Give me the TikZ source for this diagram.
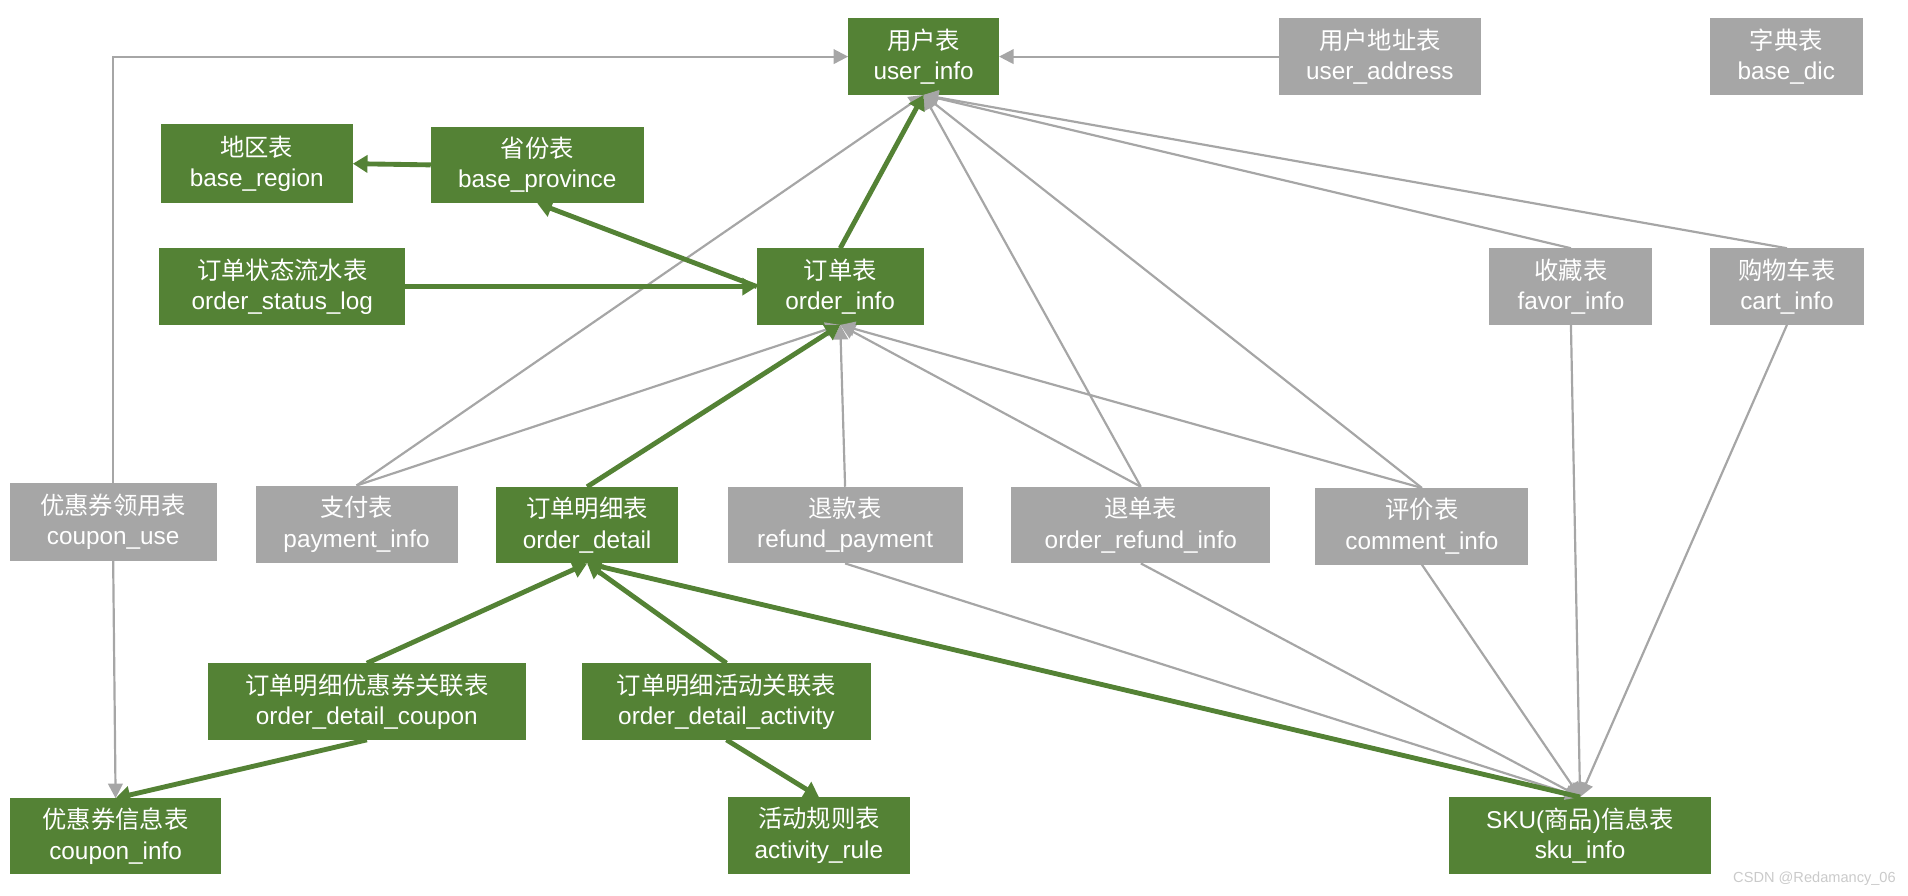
\documentclass[tikz,border=0pt]{standalone}
\usepackage{fontspec}
\setmainfont{Liberation Sans}
\newfontfamily\cjk{Noto Sans CJK SC}
\usetikzlibrary{arrows.meta}
\definecolor{g}{HTML}{548235}
\definecolor{gy}{HTML}{A6A6A6}
\begin{document}
\begin{tikzpicture}[x=0.5pt,y=-0.5pt,
 bx/.style={inner sep=0pt,text=white,font=\fontsize{10}{12.5}\selectfont,align=center},
 gl/.style={gy,line width=0.9pt,-{Triangle[length=6pt,width=6pt]}},
 gr/.style={g,line width=2pt,-{Triangle[length=6pt,width=7pt]}}]
\useasboundingbox (0,0) rectangle (1568,736);
\newcommand\bxx[6]{\fill[#6] (#2,#3) rectangle (#4,#5); \node[bx,minimum width=#4*0.5pt-#2*0.5pt,minimum height=#5*0.5pt-#3*0.5pt] (#1) at ({(#2+#4)/2},{(#3+#5)/2}) {#6text};}
\newcommand\B[7]{\fill[#6] (#2,#3) rectangle (#4,#5);
 \path (#2,#3) coordinate (#1a) (#4,#5) coordinate (#1b);
 \node[bx,fit/.style={}] (#1) at ({(#2+#4)/2},{(#3+#5)/2}) {#7};
 \coordinate (#1N) at ({(#2+#4)/2},#3); \coordinate (#1S) at ({(#2+#4)/2},#5);
 \coordinate (#1W) at (#2,{(#3+#5)/2}); \coordinate (#1E) at (#4,{(#3+#5)/2});}
\B{ui}{697}{15}{821}{78}{g}{{\cjk 用户表}\\user\_info}
\B{ua}{1051}{15}{1217}{78}{gy}{{\cjk 用户地址表}\\user\_address}
\B{bd}{1405}{15}{1531}{78}{gy}{{\cjk 字典表}\\base\_dic}
\B{br}{132}{102}{290}{167}{g}{{\cjk 地区表}\\base\_region}
\B{bp}{354}{104}{529}{167}{g}{{\cjk 省份表}\\base\_province}
\B{os}{131}{204}{333}{267}{g}{{\cjk 订单状态流水表}\\order\_status\_log}
\B{oi}{622}{204}{759}{267}{g}{{\cjk 订单表}\\order\_info}
\B{fi}{1224}{204}{1358}{267}{gy}{{\cjk 收藏表}\\favor\_info}
\B{ci}{1405}{204}{1532}{267}{gy}{{\cjk 购物车表}\\cart\_info}
\B{cu}{8}{397}{178}{461}{gy}{{\cjk 优惠券领用表}\\coupon\_use}
\B{pi}{210}{399}{376}{463}{gy}{{\cjk 支付表}\\payment\_info}
\B{od}{408}{400}{557}{463}{g}{{\cjk 订单明细表}\\order\_detail}
\B{rp}{598}{400}{791}{463}{gy}{{\cjk 退款表}\\refund\_payment}
\B{ori}{831}{400}{1044}{463}{gy}{{\cjk 退单表}\\order\_refund\_info}
\B{cm}{1081}{401}{1256}{464}{gy}{{\cjk 评价表}\\comment\_info}
\B{odc}{171}{545}{432}{608}{g}{{\cjk 订单明细优惠券关联表}\\order\_detail\_coupon}
\B{oda}{478}{545}{716}{608}{g}{{\cjk 订单明细活动关联表}\\order\_detail\_activity}
\B{cpi}{8}{656}{182}{718}{g}{{\cjk 优惠券信息表}\\coupon\_info}
\B{ar}{598}{655}{748}{718}{g}{{\cjk 活动规则表}\\activity\_rule}
\B{sku}{1191}{655}{1406}{718}{g}{SKU({\cjk 商品}){\cjk 信息表}\\sku\_info}
% gray
\draw[gl] (cuN) |- (uiW);
\draw[gl] (cuS) -- (cpiN);
\draw[gl] (uaW) -- (uiE);
\foreach \s in {piN,oriN,cmN,fiN,ciN} \draw[gl] (\s) -- (uiS);
\foreach \s in {piN,rpN,oriN,cmN} \draw[gl] (\s) -- (oiS);
\foreach \s in {rpS,oriS,cmS,fiS,ciS} \draw[gl] (\s) -- (skuN);
% green
\draw[gr] (bpW) -- (brE);
\draw[gr] (oiW) -- (bpS);
\draw[gr] (osE) -- (oiW);
\draw[gr] (oiN) -- (uiS);
\draw[gr] (odN) -- (oiS);
\draw[gr] (odcN) -- (odS);
\draw[gr] (odaN) -- (odS);
\draw[gr] (skuN) -- (odS);
\draw[gr] (odcS) -- (cpiN);
\draw[gr] (odaS) -- (arN);
\node[gy!60,font=\fontsize{6}{7}\selectfont,anchor=east] (wm) at (1565,722) {CSDN @Redamancy\_06};
\end{tikzpicture}
\end{document}
